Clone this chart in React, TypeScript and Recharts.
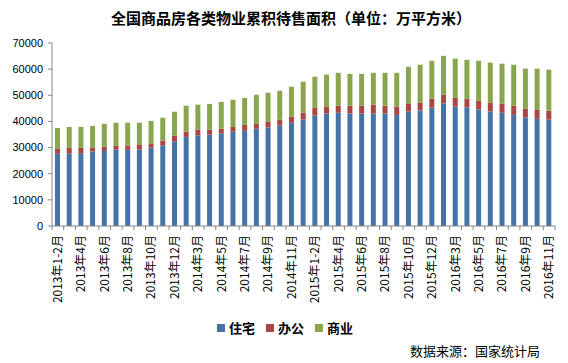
import { BarChart, Bar, XAxis, YAxis } from "recharts";

const months = [
  "2013年1-2月", "2013年3月", "2013年4月", "2013年5月", "2013年6月", "2013年7月", "2013年8月", "2013年9月", "2013年10月", "2013年11月", "2013年12月",
  "2014年1-2月", "2014年3月", "2014年4月", "2014年5月", "2014年6月", "2014年7月", "2014年8月", "2014年9月", "2014年10月", "2014年11月", "2014年12月",
  "2015年1-2月", "2015年3月", "2015年4月", "2015年5月", "2015年6月", "2015年7月", "2015年8月", "2015年9月", "2015年10月", "2015年11月", "2015年12月",
  "2016年1-2月", "2016年3月", "2016年4月", "2016年5月", "2016年6月", "2016年7月", "2016年8月", "2016年9月", "2016年10月", "2016年11月",
];

// 住宅
const housing = [
  27600, 27800, 27800, 28500, 28700, 29200, 29200, 29200, 30000, 30800, 32300,
  34100, 34600, 34900, 35400, 36100, 36400, 37200, 37700, 38400, 39500, 40700,
  42300, 43000, 43300, 43000, 43000, 43000, 43000, 42500, 43800, 44200, 45300,
  46900, 45600, 45300, 44600, 43800, 43300, 42500, 41500, 41000, 40700,
];
// 办公
const office = [
  1900, 2100, 2100, 1400, 1600, 1600, 1600, 1800, 1400, 1900, 2200,
  2000, 2200, 1900, 1800, 1800, 2300, 1900, 2100, 2200, 2300, 2600,
  2900, 2600, 2700, 3000, 3000, 3400, 3000, 3100, 2900, 2900, 3400,
  3300, 3400, 3400, 3300, 3300, 3400, 3500, 3300, 3400, 3400,
];
// 商业
const commercial = [
  8000, 8000, 8000, 8400, 8800, 8700, 8700, 8500, 8800, 8700, 9200,
  9900, 9600, 9900, 10300, 10400, 10300, 11100, 11200, 11100, 11500, 11900,
  11900, 12300, 12600, 12200, 12200, 12200, 12600, 13000, 14200, 14600, 14500,
  14900, 15000, 14900, 15300, 15400, 15400, 15700, 15400, 15800, 15700,
];

const yTicks = [0, 10000, 20000, 30000, 40000, 50000, 60000, 70000];

const series = [
  { key: "住宅", color: "#4572A7" },
  { key: "办公", color: "#AA4643" },
  { key: "商业", color: "#89A54E" },
];

const data = months.map((m, i) => ({
  month: m,
  住宅: housing[i],
  办公: office[i],
  商业: commercial[i],
}));

const W = 568;
const H = 363;
const LEFT = 52;
const RIGHT = 13;
const step = (W - LEFT - RIGHT) / months.length;
const cjk = '"Noto Sans CJK SC", "Liberation Sans", Arial, sans-serif';

const XTick = (props: any) => {
  const { x, y, payload, index } = props;
  const bx = x - step / 2;
  return (
    <g>
      <line x1={bx} y1={y - 8} x2={bx} y2={y - 4} stroke="#868686" />
      {index === months.length - 1 && (
        <line x1={bx + step} y1={y - 8} x2={bx + step} y2={y - 4} stroke="#868686" />
      )}
      {index % 2 === 0 && (
        <text
          x={x + 4}
          y={y + 1}
          transform={`rotate(-90 ${x + 4} ${y + 1})`}
          textAnchor="end"
          fontSize={12}
          fontFamily={cjk}
          fill="#000"
        >
          {payload.value}
        </text>
      )}
    </g>
  );
};

export default function App() {
  return (
    <div style={{ position: "absolute", left: 0, top: 0, width: W, height: H, background: "#fff" }}>
      <div
        style={{
          position: "absolute",
          top: 7,
          left: 0,
          width: W,
          textAlign: "center",
          fontFamily: cjk,
          fontWeight: "bold",
          fontSize: 15,
          color: "#000",
          paddingLeft: 14,
          boxSizing: "border-box",
        }}
      >
        全国商品房各类物业累积待售面积（单位：万平方米）
      </div>
      <BarChart
        width={W}
        height={H}
        data={data}
        margin={{ top: 43, right: RIGHT, left: 0, bottom: 0 }}
      >
        <XAxis
          dataKey="month"
          interval={0}
          tick={<XTick />}
          tickLine={false}
          axisLine={{ stroke: "#868686" }}
          height={137}
        />
        <YAxis
          width={LEFT}
          domain={[0, 70000]}
          ticks={yTicks}
          interval={0}
          tickSize={4}
          tickMargin={5}
          tickLine={{ stroke: "#868686" }}
          axisLine={{ stroke: "#868686" }}
          tick={{ fontSize: 11, fill: "#000", fontFamily: '"Liberation Sans", Arial, sans-serif' }}
        />
        {series.map((s) => (
          <Bar key={s.key} dataKey={s.key} stackId="a" fill={s.color} barSize={5} isAnimationActive={false} />
        ))}
      </BarChart>
      <div
        style={{
          position: "absolute",
          top: 318,
          left: 217,
          display: "flex",
          alignItems: "center",
          fontFamily: cjk,
          fontWeight: "bold",
          fontSize: 13,
          color: "#000",
        }}
      >
        {series.map((s) => (
          <span key={s.key} style={{ display: "flex", alignItems: "center", marginRight: 11 }}>
            <span style={{ width: 8, height: 8, background: s.color, marginRight: 4 }} />
            {s.key}
          </span>
        ))}
      </div>
      <div
        style={{
          position: "absolute",
          top: 341,
          left: 410,
          fontFamily: cjk,
          fontSize: 13,
          color: "#000",
          whiteSpace: "pre",
        }}
      >
        数据来源：国家统计局
      </div>
    </div>
  );
}
